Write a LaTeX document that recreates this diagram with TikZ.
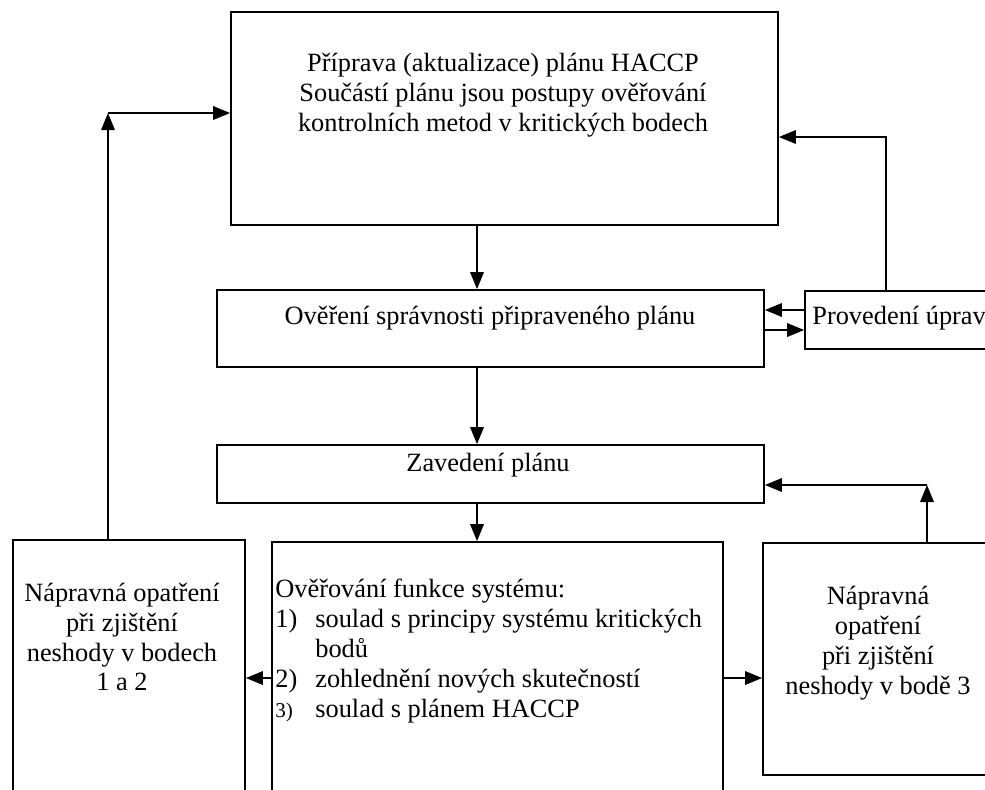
\documentclass[tikz,border=0pt]{standalone}
\usepackage{fontspec}
\setmainfont{Liberation Serif}
\usetikzlibrary{arrows.meta,positioning,calc}

\begin{document}
\begin{tikzpicture}[
    >={Triangle[length=3.4mm,width=2.7mm]},
    box/.style={draw, line width=1pt, inner sep=0pt},
    txt/.style={font=\fontsize{15}{17}\selectfont, align=center, inner sep=0pt},
    link/.style={->, line width=1pt}
]
    \useasboundingbox (0,0) rectangle (19.7,-15.78);

    % Plan preparation
    \node[box, minimum width=10.94cm, minimum height=4.26cm] (plan) at (10.09,-2.37) {};
    \node[txt] (plantxt) at (10.06,-1.90) {Příprava (aktualizace) plánu HACCP\\Součástí plánu jsou postupy ověřování\\kontrolních metod v kritických bodech};

    % Verification of the plan and its edits
    \node[box, minimum width=10.94cm, minimum height=1.54cm] (verify) at (9.81,-6.57) {};
    \node[txt] (verifytxt) at (9.80,-6.36) {Ověření správnosti připraveného plánu};
    \node[box, minimum width=4.5cm, minimum height=1.16cm] (edit) at (18.35,-6.40) {};
    \node[txt, anchor=west] (edittxt) at (16.24,-6.36) {Provedení úprav};

    % Introduction of the plan
    \node[box, minimum width=10.94cm, minimum height=1.16cm] (intro) at (9.81,-9.48) {};
    \node[txt] (introtxt) at (9.76,-9.30) {Zavedení plánu};

    % Bottom row
    \node[box, minimum width=4.64cm, minimum height=5.7cm] (fixleft) at (2.58,-13.65) {};
    \node[txt] (fixlefttxt) at (2.44,-12.74) {Nápravná opatření\\při zjištění\\neshody v bodech\\1 a 2};

    \node[box, minimum width=9.02cm, minimum height=5.66cm] (check) at (9.95,-13.67) {};
    \node[txt, align=left, anchor=west] (checktxt) at (5.50,-13.02) {Ověřování funkce systému:\\
        \makebox[0.8cm][l]{1)}soulad s principy systému kritických\\
        \hspace*{0.8cm}bodů\\
        \makebox[0.8cm][l]{2)}zohlednění nových skutečností\\
        \makebox[0.8cm][l]{\fontsize{12}{14}\selectfont 3)}soulad s plánem HACCP};

    \node[box, minimum width=4.9cm, minimum height=4.64cm] (fixright) at (17.71,-13.18) {};
    \node[txt] (fixrighttxt) at (17.56,-12.86) {Nápravná\\opatření\\při zjištění\\neshody v bodě 3};

    % Main flow
    \coordinate (axis) at (9.54,0);
    \draw[link] (plan.south -| axis) -- (verify.north -| axis);
    \draw[link] (verify.south -| axis) -- (intro.north -| axis);
    \draw[link] (intro.south -| axis) -- (check.north -| axis);

    % Edits loop
    \coordinate (back) at (0,-6.20);
    \coordinate (forth) at (0,-6.60);
    \draw[link] (edit.west |- back) -- (verify.east |- back);
    \draw[link] (verify.east |- forth) -- (edit.west |- forth);
    \coordinate (cornerR) at (17.72,-2.74);
    \draw[link] (edit.north -| cornerR) -- (cornerR) -- (plan.east |- cornerR);

    % Corrective actions
    \coordinate (lvl) at (0,-13.56);
    \draw[link] (check.west |- lvl) -- (fixleft.east |- lvl);
    \draw[link] (check.east |- lvl) -- (fixright.west |- lvl);

    \coordinate (cornerL) at (2.16,-2.26);
    \draw[link] (fixleft.north -| cornerL) -- (cornerL);
    \draw[link] (cornerL) -- (plan.west |- cornerL);

    \coordinate (cornerB) at (18.54,-9.70);
    \draw[link] (fixright.north -| cornerB) -- (cornerB);
    \draw[link] (cornerB) -- (intro.east |- cornerB);
\end{tikzpicture}
\end{document}
